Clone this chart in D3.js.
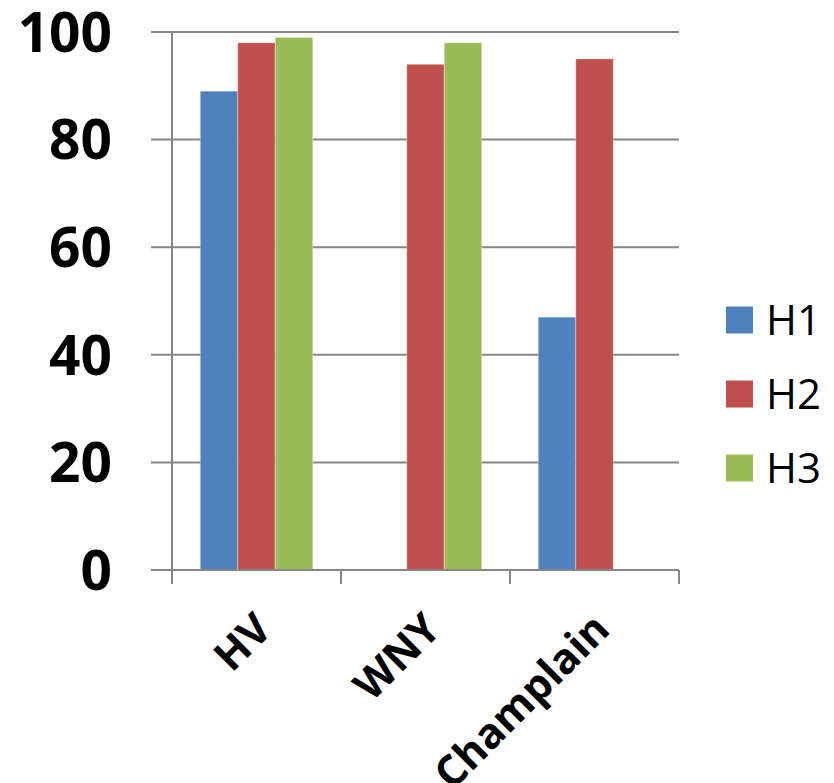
<!DOCTYPE html>
<html>
<head>
<meta charset="utf-8">
<script src="https://cdn.jsdelivr.net/npm/d3@7"></script>
<style>
  html, body { margin: 0; padding: 0; background: #fff; }
  svg { display: block; }
</style>
</head>
<body>
<svg id="chart" width="834" height="783"></svg>
<script>
// Regions on the x axis
const categories = ["HV", "WNY", "Champlain"];
// Series names, in legend order
const seriesNames = ["H1", "H2", "H3"];
// Values per series (null = no bar for that region)
const h1Values = [89, null, 47];
const h2Values = [98, 94, 95];
const h3Values = [99, 98, null];
// Y axis ticks
const yTicks = [0, 20, 40, 60, 80, 100];

const seriesValues = [h1Values, h2Values, h3Values];
const colors = ["#4F81BD", "#C0504D", "#9BBB59"];

const svg = d3.select("#chart");
const plotLeft = 172, plotRight = 679, plotTop = 32, plotBottom = 570;
const gridColor = "#868686";

const x = d3.scaleBand().domain(categories).range([plotLeft, plotRight]).paddingInner(0).paddingOuter(0);
const xSeries = d3.scaleBand().domain(seriesNames).range([0, x.bandwidth()]).paddingInner(0).paddingOuter(0.753);
const y = d3.scaleLinear().domain([0, 100]).range([plotBottom, plotTop]);

// Horizontal gridlines (extend left of the axis as tick marks)
svg.append("g")
  .selectAll("line")
  .data(yTicks.filter(d => d !== 0))
  .join("line")
  .attr("x1", plotLeft - 21).attr("x2", plotRight)
  .attr("y1", d => y(d)).attr("y2", d => y(d))
  .attr("stroke", gridColor).attr("stroke-width", 2);

// Bars
const barData = [];
categories.forEach((c, ci) => {
  seriesNames.forEach((s, si) => {
    const v = seriesValues[si][ci];
    if (v != null) barData.push({ c, s, v, color: colors[si] });
  });
});
svg.append("g")
  .selectAll("rect")
  .data(barData)
  .join("rect")
  .attr("x", d => x(d.c) + xSeries(d.s))
  .attr("y", d => y(d.v))
  .attr("width", xSeries.bandwidth())
  .attr("height", d => y(0) - y(d.v))
  .attr("fill", d => d.color)
  .attr("stroke", "rgba(255,255,255,0.35)")
  .attr("stroke-width", 1);

// Y axis line
svg.append("line")
  .attr("x1", plotLeft).attr("x2", plotLeft)
  .attr("y1", plotTop).attr("y2", plotBottom)
  .attr("stroke", gridColor).attr("stroke-width", 2);
// Zero line / x axis, with its tick at 0
svg.append("line")
  .attr("x1", plotLeft - 21).attr("x2", plotRight)
  .attr("y1", y(0)).attr("y2", y(0))
  .attr("stroke", gridColor).attr("stroke-width", 2);

// X axis tick marks at band boundaries
const xTickPos = categories.map(c => x(c)).concat([x(categories[categories.length - 1]) + x.bandwidth()]);
svg.append("g")
  .selectAll("line")
  .data(xTickPos)
  .join("line")
  .attr("x1", d => d).attr("x2", d => d)
  .attr("y1", y(0)).attr("y2", y(0) + 14)
  .attr("stroke", gridColor).attr("stroke-width", 2);

// Y tick labels
svg.append("g")
  .selectAll("text")
  .data(yTicks)
  .join("text")
  .attr("x", 112)
  .attr("y", d => y(d))
  .attr("dy", "0.36em")
  .attr("text-anchor", "end")
  .attr("font-family", "'Open Sans', sans-serif")
  .attr("font-weight", "bold")
  .attr("font-size", 55)
  .attr("fill", "#000")
  .text(d => d);

// X category labels, rotated
svg.append("g")
  .selectAll("text")
  .data(categories)
  .join("text")
  .attr("transform", d => `translate(${x(d) + x.bandwidth() / 2 - 4},${plotBottom + 40}) rotate(-45)`)
  .attr("dy", "0.72em")
  .attr("text-anchor", "end")
  .attr("font-family", "'Open Sans', sans-serif")
  .attr("font-weight", "bold")
  .attr("font-size", 42)
  .attr("fill", "#000")
  .text(d => d);

// Legend
const legend = svg.append("g");
const legendY = d3.scalePoint().domain(seriesNames).range([320, 468]);
legend.selectAll("rect")
  .data(seriesNames)
  .join("rect")
  .attr("x", 726)
  .attr("y", d => legendY(d) - 13.5)
  .attr("width", 27).attr("height", 27)
  .attr("fill", (d, i) => colors[i]);
legend.selectAll("text")
  .data(seriesNames)
  .join("text")
  .attr("x", 766)
  .attr("y", d => legendY(d))
  .attr("dy", "0.36em")
  .attr("font-family", "'Open Sans', sans-serif")
  .attr("font-size", 42)
  .attr("fill", "#000")
  .text(d => d);
</script>
</body>
</html>
